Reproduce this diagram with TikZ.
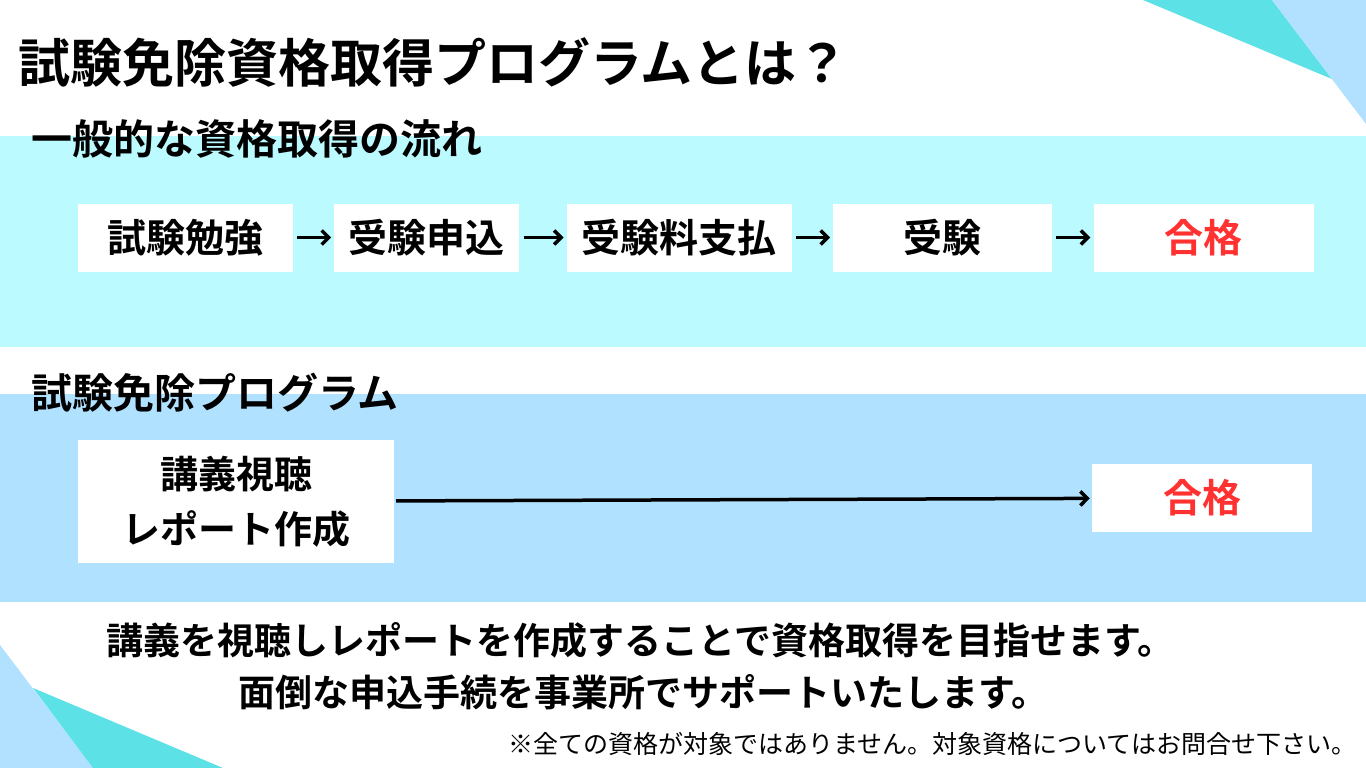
\documentclass[tikz,border=0pt]{standalone}
\usepackage{fontspec}
\setmainfont{Noto Sans CJK JP}[BoldFont={* Bold}]
\usepackage{xcolor}
\definecolor{bandaCian}{RGB}{187,250,255}
\definecolor{bandaAzul}{RGB}{176,225,255}
\definecolor{triCian}{RGB}{92,225,230}
\definecolor{triAzul}{RGB}{177,225,254}
\definecolor{rojoOk}{RGB}{255,49,49}
\usetikzlibrary{arrows.meta, positioning}

\begin{document}
\begin{tikzpicture}[
  x=1pt, y=-1pt,
  caja/.style={rectangle, fill=white, align=center, minimum height=68pt,
               inner sep=0pt, font=\fontsize{39}{46}\selectfont\bfseries},
  meta/.style={caja, text=rojoOk},
  titulo/.style={anchor=west, inner sep=0pt, font=\fontsize{52}{60}\selectfont\bfseries},
  seccion/.style={anchor=west, inner sep=0pt, font=\fontsize{41}{48}\selectfont\bfseries},
  linea/.style={anchor=west, inner sep=0pt, font=\fontsize{37}{44}\selectfont\bfseries},
  flecha/.style={-{Straight Barb[length=7pt, width=14pt, line width=3.5pt]}, line width=3.5pt}
]
\useasboundingbox (0,0) rectangle (1366,768);

% Fondo: bandas y triangulos de las esquinas
\fill[bandaCian] (0,136) rectangle (1366,347);
\fill[bandaAzul] (0,394) rectangle (1366,602);
\fill[triCian] (1143,0) -- (1272,0) -- (1332,79) -- cycle;
\fill[triAzul] (1272,0) -- (1366,0) -- (1366,124) -- cycle;
\fill[triAzul] (0,645) -- (93,768) -- (0,768) -- cycle;
\fill[triCian] (33,688) -- (223,768) -- (93,768) -- cycle;

% Titulos
\node[titulo] (tit) at (18,62) {試験免除資格取得プログラムとは？};
\node[seccion] (sec1) at (31,139) {一般的な資格取得の流れ};
\node[seccion] (sec2) at (31,393) {試験免除プログラム};

% Flujo general
\node[caja, minimum width=215pt] (estudio) at (185.5,237.5) {試験勉強};
\node[caja, minimum width=185pt, right=41pt of estudio] (solicitud) {受験申込};
\node[caja, minimum width=225pt, right=47pt of solicitud] (pago) {受験料支払};
\node[caja, minimum width=219pt, right=41pt of pago] (examen) {受験};
\node[meta, minimum width=220pt, right=41pt of examen] (aprobado1) {合格};

\draw[flecha, shorten <=4pt, shorten >=3pt] (estudio) -- (solicitud);
\draw[flecha, shorten <=4pt, shorten >=3pt] (solicitud) -- (pago);
\draw[flecha, shorten <=4pt, shorten >=3pt] (pago) -- (examen);
\draw[flecha, shorten <=4pt, shorten >=3pt] (examen) -- (aprobado1);

% Programa de exencion
\node[caja, minimum width=316pt, minimum height=123pt,
      font=\fontsize{38}{55}\selectfont\bfseries] (curso) at (236,501.5) {講義視聴\\レポート作成};
\node[meta, minimum width=220pt] (aprobado2) at (1202,498) {合格};
\draw[flecha, shorten <=2pt, shorten >=2pt] (curso) -- (aprobado2);

% Texto inferior
\node[linea] (txt1) at (106,640) {講義を視聴しレポートを作成することで資格取得を目指せます。};
\node[linea] (txt2) at (238,692) {面倒な申込手続を事業所でサポートいたします。};
\node[anchor=west, inner sep=0pt, font=\fontsize{25}{30}\selectfont] (nota) at (508,744)
  {※全ての資格が対象ではありません。対象資格についてはお問合せ下さい。};

\end{tikzpicture}
\end{document}
